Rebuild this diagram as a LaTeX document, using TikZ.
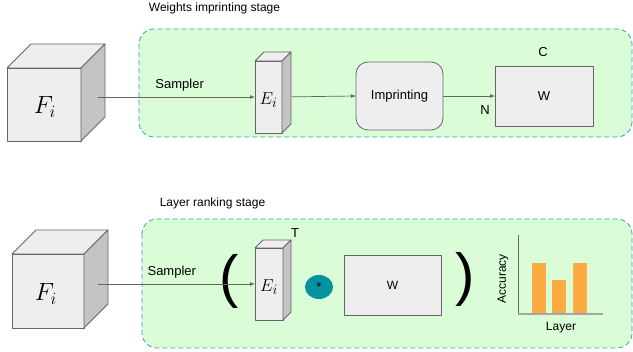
\documentclass[tikz,border=0pt]{standalone}
\usepackage{fontspec}
\setmainfont{Liberation Sans}
\usetikzlibrary{positioning,calc,shapes.geometric}

\definecolor{stagegreen}{HTML}{DAFCD6}
\definecolor{stageline}{HTML}{2CA6B4}
\definecolor{facegray}{HTML}{EEEEEE}
\definecolor{sidegray}{HTML}{C4C4C4}
\definecolor{edgegray}{HTML}{666666}
\definecolor{dotteal}{HTML}{00939F}
\definecolor{barorange}{HTML}{FBAB42}

\begin{document}
\begin{tikzpicture}[x=1pt,y=-1pt]
\tikzset{ >=latex, inner sep=0pt, outer sep=0pt,
  stage/.style={draw=stageline, fill=stagegreen, dash pattern=on 5pt off 3pt, rounded corners=15pt, line width=0.8pt},
  face/.style={draw=edgegray, fill=facegray, line width=0.8pt, line join=round},
  side/.style={draw=edgegray, fill=sidegray, line width=0.8pt, line join=round},
  link/.style={->, draw=edgegray, line width=0.7pt},
  lbl/.style={font=\fontsize{13}{15}\selectfont},
  ttl/.style={font=\fontsize{12}{14}\selectfont},
  paren/.style={font=\fontsize{58}{58}\selectfont},
  bigmath/.style={font=\fontsize{23}{23}\selectfont},
  midmath/.style={font=\fontsize{19}{19}\selectfont},
}

\useasboundingbox (0,0) rectangle (633,352);

%%% weights imprinting stage
\draw [stage] (139,29) rectangle (632,137);
\node [ttl] (T1) at (214.5,8) {Weights imprinting stage};

\node [face, minimum width=74pt, minimum height=73pt] (F1) at (44,104.5) {};
\filldraw [face] (F1.north west) -- ++(24,-24) -- ++(74,0) -- (F1.north east) -- cycle;
\filldraw [side] (F1.north east) -- ++(24,-24) -- ++(0,73) -- (F1.south east) -- cycle;
\node [bigmath] at (45,107) {$F_i$};

\node [face, minimum width=27pt, minimum height=72pt] (E1) at (268.5,97) {};
\node [face, rounded corners=12pt, minimum width=87pt, minimum height=68pt, lbl] (imp) at (399.5,96) {Imprinting};
\node [face, minimum width=98pt, minimum height=60pt, lbl] (W1) at (544,96) {W};
\node [lbl] (C1) at (543,52) {C};
\node [lbl] (N1) at (485,110) {N};

\coordinate (s1) at (98,97);
\draw [link] (s1) -- node [lbl, pos=0.52, above=6pt] {Sampler} (E1.west);
\draw [link] (E1.east) -- (imp.west);
\draw [link] (imp.east) -- (W1.west);

\filldraw [face] (E1.north west) -- ++(9,-9) -- ++(27,0) -- (E1.north east) -- cycle;
\filldraw [side] (E1.north east) -- ++(9,-9) -- ++(0,72) -- (E1.south east) -- cycle;
\node [midmath] at (268.5,100) {$E_i$};

%%% layer ranking stage
\draw [stage] (142,219) rectangle (632,348);
\node [ttl] (T2) at (212.5,203) {Layer ranking stage};

\node [face, minimum width=72pt, minimum height=74pt] (F2) at (48,291) {};
\filldraw [face] (F2.north west) -- ++(24,-24) -- ++(72,0) -- (F2.north east) -- cycle;
\filldraw [side] (F2.north east) -- ++(24,-24) -- ++(0,74) -- (F2.south east) -- cycle;
\node [bigmath] at (46,294) {$F_i$};

\node [face, minimum width=28pt, minimum height=72pt] (E2) at (269,284) {};
\coordinate (s2) at (98,284);
\node [paren] (lp) at (229.5,281) {(};
\draw [link] (s2) -- node [lbl, pos=0.47, above=6pt] {Sampler} (E2.west);

\filldraw [face] (E2.north west) -- ++(8,-8) -- ++(28,0) -- (E2.north east) -- cycle;
\filldraw [side] (E2.north east) -- ++(8,-8) -- ++(0,72) -- (E2.south east) -- cycle;
\node [midmath] at (269,287) {$E_i$};
\node [lbl] (T) at (295,233) {T};

\node [ellipse, fill=dotteal, minimum width=28pt, minimum height=24pt] (op) at (319,287) {};
\node [font=\fontsize{13}{13}\selectfont] at (op) {*};
\node [face, minimum width=97pt, minimum height=60pt, font=\fontsize{12}{14}\selectfont] (W2) at (392.5,285) {W};
\node [paren] (rp) at (465.5,279) {)};

% accuracy per layer
\fill [barorange] (532,314) rectangle (546,263);
\fill [barorange] (552,314) rectangle (566,280);
\fill [barorange] (573,314) rectangle (587,263);
\draw [edgegray, line width=0.8pt] (518,235) -- (518,314);
\draw [gray!70, line width=1.2pt] (518,314) -- (603,314);
\node [ttl, rotate=90] (acc) at (503,279) {Accuracy};
\node [ttl] (lay) at (561,328) {Layer};

\end{tikzpicture}
\end{document}
